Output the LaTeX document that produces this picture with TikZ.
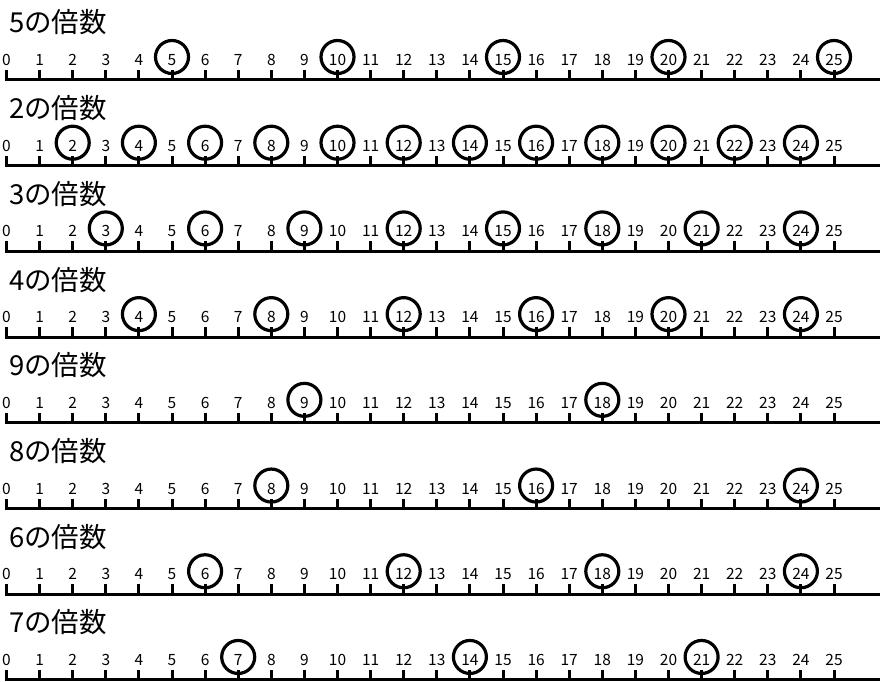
\documentclass[tikz,border=0pt]{standalone}
\usepackage{fontspec}
\setmainfont{Noto Sans CJK JP}
\usetikzlibrary{positioning}

\begin{document}
\begin{tikzpicture}[
            x=1pt, y=-1pt,
            rowtitle/.style={
                anchor=base west,
                inner sep=0pt,
                font=\fontsize{27.5}{30}\selectfont
            },
            numlabel/.style={
                anchor=base,
                inner sep=0pt,
                font=\fontsize{15.5}{17}\selectfont
            },
            ruler/.style={
                line width=3pt
            },
            tickline/.style={
                line width=3pt
            },
            multring/.style={
                draw,
                circle,
                line width=3.2pt,
                minimum size=33pt,
                inner sep=0pt
            }
        ]

            % Layout parameters
            \def\xZero{6.5}       % x of tick 0
            \def\xStep{33.1}      % tick spacing
            \def\yFirst{80}       % baseline of first row
            \def\yStep{85.71}     % row spacing
            \def\tickLen{10}

            \useasboundingbox (0,0) rectangle (880,682);

            % One ruler per divisor
            \foreach[count=\r from 0] \m in {5,2,3,4,9,8,6,7} {

            % row title
                \node[rowtitle] (t\r) at (9, \yFirst+\r*\yStep-47) {\m の倍数};

            % baseline
                \coordinate (bl\r) at (5, \yFirst+\r*\yStep);
                \coordinate (br\r) at (880, \yFirst+\r*\yStep);
                \draw[ruler] (bl\r) -- (br\r);

            % ticks, numbers and rings
                \foreach \n in {0,...,25} {
                    \coordinate (k\r-\n) at (\xZero+\n*\xStep, \yFirst+\r*\yStep);
                    \coordinate (kt\r-\n) at (\xZero+\n*\xStep, \yFirst+\r*\yStep-\tickLen);
                    \draw[tickline] (k\r-\n) -- (kt\r-\n);
                    \node[numlabel] (n\r-\n) at (\xZero+\n*\xStep, \yFirst+\r*\yStep-14.5) {\n};
                    \pgfmathtruncatemacro{\rest}{mod(\n,\m)}
                    \ifnum\n>0
                        \ifnum\rest=0
                            \node[multring] (c\r-\n) at (\xZero+\n*\xStep, \yFirst+\r*\yStep-23) {};
                        \fi
                    \fi
                }
            }

        \end{tikzpicture}
\end{document}
